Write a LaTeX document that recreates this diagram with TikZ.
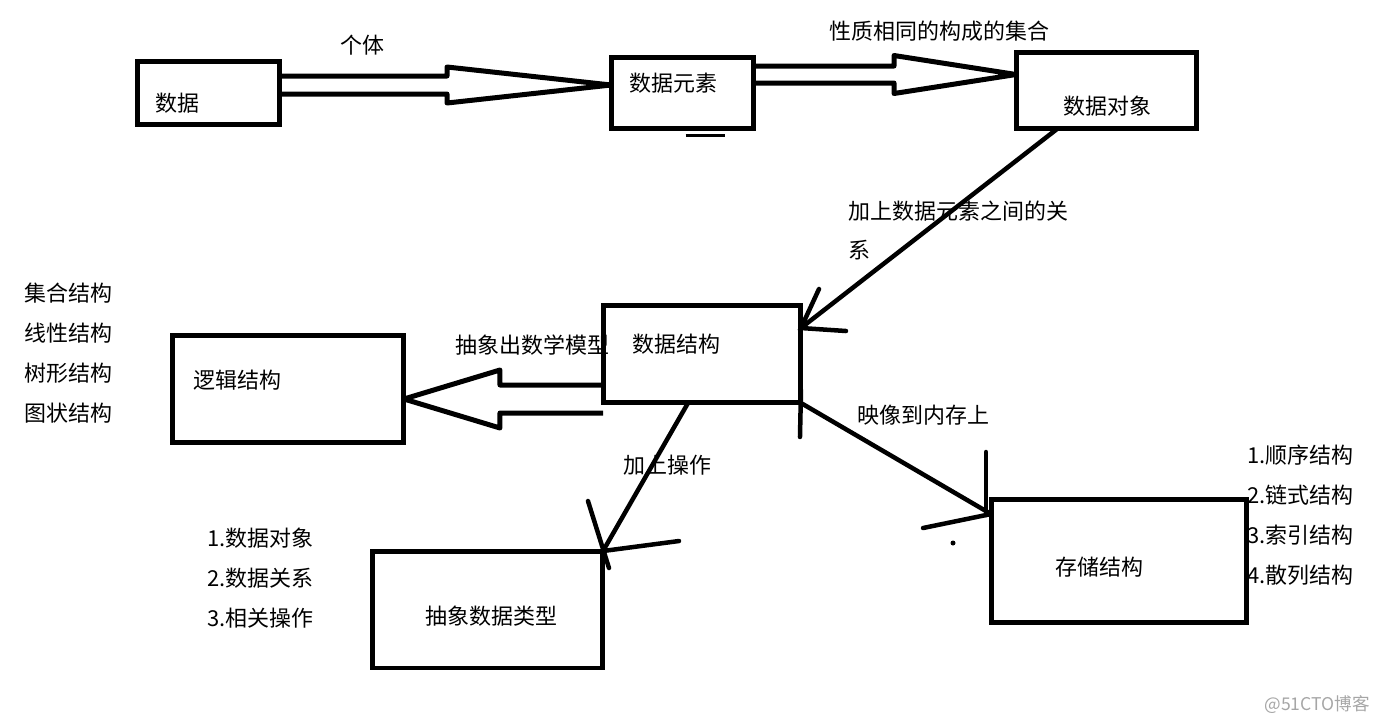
\documentclass[tikz,border=0pt]{standalone}
\usepackage{fontspec}
\setmainfont{Noto Sans CJK SC}
\usetikzlibrary{calc}

\begin{document}
\begin{tikzpicture}[x=0.02cm, y=-0.02cm,
    box/.style={draw, line width=0.1cm, inner sep=0pt, outer sep=0pt},
    lbl/.style={anchor=west, inner sep=0pt, font=\fontsize{12.5}{15}\selectfont},
    fat/.style={draw, line width=0.1cm, line join=round},
    stroke/.style={draw, line width=0.09cm, line cap=round}]
  \useasboundingbox (0,0) rectangle (1386,724);

  % top row: data -> element -> object
  \node[box, minimum width=2.86cm, minimum height=1.28cm] (data) at (208.5,93) {};
  \node[lbl] (datatext) at (155,103) {数据};
  \node[box, minimum width=2.86cm, minimum height=1.44cm] (elem) at (682.5,93) {};
  \node[lbl] (elemtext) at (629,83) {数据元素};
  \node[box, minimum width=3.62cm, minimum height=1.54cm] (obj) at (1106.5,90.5) {};
  \node[lbl] (objtext) at (1063,106) {数据对象};

  % middle: the structure and its logical view
  \node[box, minimum width=3.96cm, minimum height=1.96cm] (struct) at (702,354) {};
  \node[lbl] (structtext) at (632,344) {数据结构};
  \node[box, minimum width=4.64cm, minimum height=2.16cm] (logic) at (288,389) {};
  \node[lbl] (logictext) at (193,380) {逻辑结构};

  % bottom: abstract type and storage
  \node[box, minimum width=4.62cm, minimum height=2.34cm] (adt) at (487.5,609.5) {};
  \node[lbl] (adttext) at (425,616) {抽象数据类型};
  \node[box, minimum width=5.12cm, minimum height=2.48cm] (store) at (1119,561) {};
  \node[lbl] (storetext) at (1055,567) {存储结构};

  % hollow arrows
  \coordinate (t1) at ([yshift=0.16cm]elem.west);
  \draw[fat] ($(data.east |- t1)+(0,-9)$) -- ($(t1)+(-164,-9)$) -- ($(t1)+(-164,-18)$)
    -- (t1) -- ($(t1)+(-164,18)$) -- ($(t1)+(-164,9)$) -- ($(data.east |- t1)+(0,9)$);
  \coordinate (t2) at ([yshift=0.32cm]obj.west);
  \draw[fat] ($(elem.east |- t2)+(0,-8.5)$) -- ($(t2)+(-122,-8.5)$) -- ($(t2)+(-122,-19)$)
    -- (t2) -- ($(t2)+(-122,19)$) -- ($(t2)+(-122,8.5)$) -- ($(elem.east |- t2)+(0,8.5)$);
  \coordinate (t3) at ([yshift=-0.2cm]logic.east);
  \draw[fat] ($(struct.west |- t3)+(0,-14)$) -- ($(t3)+(96,-14)$) -- ($(t3)+(96,-29)$)
    -- (t3) -- ($(t3)+(96,29)$) -- ($(t3)+(96,14)$) -- ($(struct.west |- t3)+(0,14)$);

  % hand drawn line arrows
  \coordinate (t4) at ([yshift=0.52cm]struct.east);
  \draw[stroke] ([xshift=-0.99cm]obj.south) -- (t4);
  \draw[stroke] ($(t4)+(18,-39)$) -- (t4) -- ($(t4)+(45,3)$);
  \coordinate (t5) at (adt.north east);
  \draw[stroke] ([xshift=-0.28cm]struct.south) -- (t5);
  \draw[stroke] ($(t5)+(-15,-50)$) -- ($(t5)+(6,17)$);
  \draw[stroke] (t5) -- ($(t5)+(76,-10)$);
  \coordinate (t6) at ([yshift=0.94cm]store.west);
  \draw[stroke] (struct.south east) -- (t6);
  \draw[stroke] ($(t6)+(-68,14)$) -- (t6);
  \draw[stroke] ($(t6)+(-5,-62)$) -- ($(t6)+(-5,1)$);
  \draw[stroke] ($(struct.south east)+(0,-13)$) -- ($(struct.south east)+(-1,34)$);

  % small marks
  \draw[line width=0.06cm] ($(elem.south)+(3,7)$) -- ($(elem.south)+(42,7)$);
  \fill (953,543) circle (2.5);

  % connector labels
  \node[lbl] (l1) at (340,45) {个体};
  \node[lbl] (l2) at (829,31) {性质相同的构成的集合};
  \node[lbl] (l3) at (848,211) {加上数据元素之间的关};
  \node[lbl] (l3b) at (848,250) {系};
  \node[lbl] (l4) at (455,345) {抽象出数学模型};
  \node[lbl] (l5) at (857,415) {映像到内存上};
  \node[lbl] (l6) at (623,465) {加上操作};

  % side lists
  \foreach \t [count=\i] in {集合结构, 线性结构, 树形结构, 图状结构}
    \node[lbl] (kind\i) at (24,253+40*\i) {\t};
  \foreach \t [count=\i] in {1.数据对象, 2.数据关系, 3.相关操作}
    \node[lbl] (part\i) at (207,498+40*\i) {\t};
  \foreach \t [count=\i] in {1.顺序结构, 2.链式结构, 3.索引结构, 4.散列结构}
    \node[lbl] (form\i) at (1247,415+40*\i) {\t};

  \node[anchor=east, text=gray!70, font=\fontsize{10}{12}\selectfont] (mark) at (1376,705) {@51CTO博客};
\end{tikzpicture}
\end{document}
